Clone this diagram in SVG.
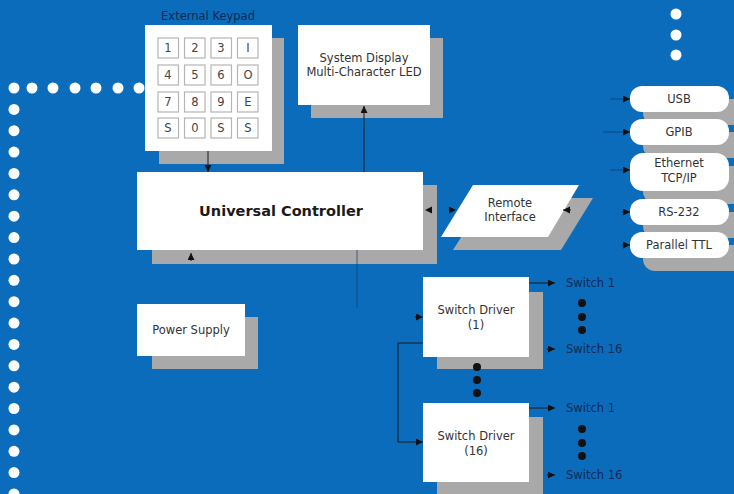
<svg xmlns="http://www.w3.org/2000/svg" width="734" height="494" viewBox="0 0 734 494">
<defs>
<marker id="arr" markerUnits="userSpaceOnUse" markerWidth="8" markerHeight="8" refX="7" refY="3.5" orient="auto">
<path d="M0,0 L7,3.5 L0,7 Z" fill="#111"/>
</marker>
<style>
.shadow{fill:#a9a9a9}
.box{fill:#ffffff}
.t{font-family:"DejaVu Sans",Verdana,sans-serif;font-size:11.5px;fill:#333;text-anchor:middle}
.tb{font-family:"DejaVu Sans",Verdana,sans-serif;font-size:14.5px;font-weight:bold;fill:#1a1a1a;text-anchor:middle}
.lbl{font-family:"DejaVu Sans",Verdana,sans-serif;font-size:11.5px;fill:#0d2a52}
.key{fill:#ffffff;stroke:#b5b5b5;stroke-width:1.2}
.kt{font-family:"DejaVu Sans",Verdana,sans-serif;font-size:11.5px;fill:#444;text-anchor:middle}
.wd{fill:#ffffff}
.bd{fill:#111}
.c{fill:none;stroke:#1a1a1a;stroke-width:1}
.cf{fill:none;stroke:#0e3c68;stroke-width:1}
.hd{fill:none;stroke:none}
</style>
</defs>
<rect x="0" y="0" width="734" height="494" fill="#0b6cbc"/>

<g id="border-dots">
<circle class="wd" cx="14" cy="88" r="5.5"/>
<circle class="wd" cx="32" cy="88" r="5.5"/>
<circle class="wd" cx="53" cy="88" r="5.5"/>
<circle class="wd" cx="75" cy="88" r="5.5"/>
<circle class="wd" cx="96" cy="88" r="5.5"/>
<circle class="wd" cx="118" cy="88" r="5.5"/>
<circle class="wd" cx="139" cy="88" r="5.5"/>
<circle class="wd" cx="14" cy="109.4" r="5.5"/>
<circle class="wd" cx="14" cy="130.7" r="5.5"/>
<circle class="wd" cx="14" cy="152.1" r="5.5"/>
<circle class="wd" cx="14" cy="173.5" r="5.5"/>
<circle class="wd" cx="14" cy="194.8" r="5.5"/>
<circle class="wd" cx="14" cy="216.2" r="5.5"/>
<circle class="wd" cx="14" cy="237.6" r="5.5"/>
<circle class="wd" cx="14" cy="259" r="5.5"/>
<circle class="wd" cx="14" cy="280.3" r="5.5"/>
<circle class="wd" cx="14" cy="301.7" r="5.5"/>
<circle class="wd" cx="14" cy="323.1" r="5.5"/>
<circle class="wd" cx="14" cy="344.4" r="5.5"/>
<circle class="wd" cx="14" cy="365.8" r="5.5"/>
<circle class="wd" cx="14" cy="387.2" r="5.5"/>
<circle class="wd" cx="14" cy="408.5" r="5.5"/>
<circle class="wd" cx="14" cy="429.9" r="5.5"/>
<circle class="wd" cx="14" cy="451.3" r="5.5"/>
<circle class="wd" cx="14" cy="472.6" r="5.5"/>
<circle class="wd" cx="14" cy="494" r="5.5"/>
<circle class="wd" cx="676" cy="14" r="5.5"/>
<circle class="wd" cx="676" cy="35" r="5.5"/>
<circle class="wd" cx="676" cy="55" r="5.5"/>
</g>

<g id="keypad">
<text class="lbl" x="208" y="20" text-anchor="middle" font-size="10.5">External Keypad</text>
<rect class="shadow" x="159" y="38" width="125" height="126"/>
<rect class="box" x="145" y="25" width="127" height="126"/>
<rect class="key" x="158" y="38" width="20.5" height="20"/>
<rect class="key" x="184.5" y="38" width="20.5" height="20"/>
<rect class="key" x="211" y="38" width="20.5" height="20"/>
<rect class="key" x="237.5" y="38" width="20.5" height="20"/>
<rect class="key" x="158" y="65" width="20.5" height="20"/>
<rect class="key" x="184.5" y="65" width="20.5" height="20"/>
<rect class="key" x="211" y="65" width="20.5" height="20"/>
<rect class="key" x="237.5" y="65" width="20.5" height="20"/>
<rect class="key" x="158" y="92" width="20.5" height="20"/>
<rect class="key" x="184.5" y="92" width="20.5" height="20"/>
<rect class="key" x="211" y="92" width="20.5" height="20"/>
<rect class="key" x="237.5" y="92" width="20.5" height="20"/>
<rect class="key" x="158" y="118" width="20.5" height="20"/>
<rect class="key" x="184.5" y="118" width="20.5" height="20"/>
<rect class="key" x="211" y="118" width="20.5" height="20"/>
<rect class="key" x="237.5" y="118" width="20.5" height="20"/>
<text class="kt" x="168" y="52">1</text>
<text class="kt" x="195" y="52">2</text>
<text class="kt" x="221" y="52">3</text>
<text class="kt" x="248" y="52">I</text>
<text class="kt" x="168" y="79">4</text>
<text class="kt" x="195" y="79">5</text>
<text class="kt" x="221" y="79">6</text>
<text class="kt" x="248" y="79">O</text>
<text class="kt" x="168" y="106">7</text>
<text class="kt" x="195" y="106">8</text>
<text class="kt" x="221" y="106">9</text>
<text class="kt" x="248" y="106">E</text>
<text class="kt" x="168" y="132">S</text>
<text class="kt" x="195" y="132">0</text>
<text class="kt" x="221" y="132">S</text>
<text class="kt" x="248" y="132">S</text>
</g>

<g id="system-display">
<rect class="shadow" x="311" y="38" width="132" height="80"/>
<rect class="box" x="298" y="25" width="132" height="80"/>
<text class="t" x="364" y="62">System Display</text>
<text class="t" x="364" y="76">Multi-Character LED</text>
</g>

<g id="universal-controller">
<rect class="shadow" x="152" y="185" width="285" height="79"/>
<rect class="box" x="137" y="172" width="286" height="78"/>
<text class="tb" x="281" y="216">Universal Controller</text>
</g>

<g id="remote-interface">
<polygon class="shadow" points="486,198 593,198 561,250 453,250"/>
<polygon class="box" points="473,185 579,185 548,237 441,237"/>
<text class="t" x="510" y="207">Remote</text>
<text class="t" x="510" y="221">Interface</text>
</g>

<g id="usb">
<rect class="shadow" x="643" y="99" width="110" height="26" rx="12"/>
<rect class="box" x="630" y="86" width="99" height="26" rx="12"/>
<text class="t" x="679" y="103">USB</text>
</g>
<g id="gpib">
<rect class="shadow" x="643" y="132" width="110" height="26" rx="12"/>
<rect class="box" x="630" y="119" width="99" height="26" rx="12"/>
<text class="t" x="679" y="136">GPIB</text>
</g>
<g id="ethernet">
<rect class="shadow" x="643" y="166" width="110" height="38" rx="13"/>
<rect class="box" x="630" y="153" width="99" height="38" rx="13"/>
<text class="t" x="679" y="167">Ethernet</text>
<text class="t" x="679" y="182">TCP/IP</text>
</g>
<g id="rs232">
<rect class="shadow" x="643" y="212" width="110" height="26" rx="12"/>
<rect class="box" x="630" y="199" width="99" height="26" rx="12"/>
<text class="t" x="679" y="216">RS-232</text>
</g>
<g id="parallel-ttl">
<rect class="shadow" x="643" y="245" width="110" height="26" rx="12"/>
<rect class="box" x="630" y="232" width="99" height="26" rx="12"/>
<text class="t" x="679" y="249">Parallel TTL</text>
</g>

<g id="power-supply">
<rect class="shadow" x="152" y="317" width="106" height="52"/>
<rect class="box" x="137" y="304" width="108" height="52"/>
<text class="t" x="191" y="334">Power Supply</text>
</g>

<g id="switch-driver-1">
<rect class="shadow" x="437" y="292" width="106" height="77"/>
<rect class="box" x="423" y="277" width="106" height="80"/>
<text class="t" x="476" y="314">Switch Driver</text>
<text class="t" x="476" y="329">(1)</text>
</g>

<g id="switch-driver-16">
<rect class="shadow" x="437" y="417" width="106" height="80"/>
<rect class="box" x="423" y="403" width="106" height="79"/>
<text class="t" x="476" y="440">Switch Driver</text>
<text class="t" x="476" y="455">(16)</text>
</g>

<g id="switch-outputs">
<text class="lbl" x="566" y="287">Switch 1</text>
<text class="lbl" x="566" y="353">Switch 16</text>
<text class="lbl" x="566" y="412">Switch 1</text>
<text class="lbl" x="566" y="479">Switch 16</text>
<circle class="bd" cx="582" cy="303" r="4"/>
<circle class="bd" cx="582" cy="317" r="4"/>
<circle class="bd" cx="582" cy="330" r="4"/>
<circle class="bd" cx="582" cy="429" r="4"/>
<circle class="bd" cx="582" cy="443" r="4"/>
<circle class="bd" cx="582" cy="456" r="4"/>
<circle class="bd" cx="477" cy="367" r="4"/>
<circle class="bd" cx="477" cy="380" r="4"/>
<circle class="bd" cx="477" cy="393" r="4"/>
</g>

<g id="connectors">
<path class="c" d="M208,151 V172" marker-end="url(#arr)"/>
<path class="c" d="M364,172 V106" marker-end="url(#arr)"/>
<path class="c" d="M191,261 V253" marker-end="url(#arr)"/>
<path class="cf" d="M357,250 V308" stroke-opacity="0.7"/>
<path class="hd" d="M433,210 H425" marker-end="url(#arr)"/>
<path class="hd" d="M448,210 H456" marker-end="url(#arr)"/>
<path class="c" d="M571,210 H563" marker-end="url(#arr)"/>
<path class="cf" d="M610,99 H630" marker-end="url(#arr)" stroke-opacity="0.8"/>
<path class="cf" d="M603,132 H630" marker-end="url(#arr)" stroke-opacity="0.8"/>
<path class="cf" d="M610,170 H630" marker-end="url(#arr)" stroke-opacity="0.8"/>
<path class="c" d="M622,212 H630" marker-end="url(#arr)"/>
<path class="c" d="M622,245 H630" marker-end="url(#arr)"/>
<path class="c" d="M415,317 H423" marker-end="url(#arr)"/>
<path class="c" d="M423,343 H398 V442 H423" marker-end="url(#arr)"/>
<path class="c" d="M529,283 H555" marker-end="url(#arr)"/>
<path class="c" d="M547,349 H555" marker-end="url(#arr)"/>
<path class="c" d="M529,408 H555" marker-end="url(#arr)"/>
<path class="c" d="M547,475 H555" marker-end="url(#arr)"/>
</g>
</svg>
